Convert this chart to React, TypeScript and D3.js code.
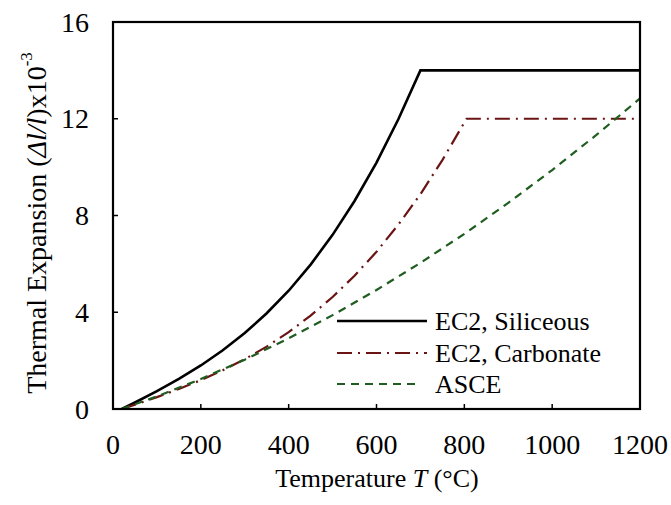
import React from "react";
import * as d3 from "d3";

const silTemps = [20, 50, 100, 150, 200, 250, 300, 350, 400, 450, 500, 550, 600, 650, 700, 1200];
const silValues = [0, 0.27, 0.74, 1.25, 1.8, 2.43, 3.14, 3.96, 4.89, 5.97, 7.2, 8.6, 10.19, 11.99, 14.0, 14.0];

const carbTemps = [20, 50, 100, 150, 200, 250, 300, 350, 400, 450, 500, 550, 600, 650, 700, 750, 805, 1200];
const carbValues = [0, 0.18, 0.49, 0.83, 1.19, 1.6, 2.06, 2.58, 3.18, 3.86, 4.63, 5.51, 6.5, 7.63, 8.88, 10.29, 12.0, 12.0];

const asceTemps = [20, 100, 200, 300, 400, 500, 600, 700, 800, 900, 1000, 1100, 1200];
const asceValues = [0, 0.52, 1.24, 2.04, 2.92, 3.88, 4.92, 6.04, 7.24, 8.52, 9.88, 11.32, 12.84];

const xTicks = [0, 200, 400, 600, 800, 1000, 1200];
const yTicks = [0, 4, 8, 12, 16];

const seriesNames = ["EC2, Siliceous", "EC2, Carbonate", "ASCE"];

const W = 671;
const H = 505;
const L = 113, R = 640, T = 22, B = 409;
const FONT = "Liberation Serif, Times New Roman, DejaVu Serif, serif";
const TS = { fontFamily: FONT };

export default function App() {
  const x = d3.scaleLinear().domain([0, 1200]).range([L, R]);
  const y = d3.scaleLinear().domain([0, 16]).range([B, T]);
  const line = d3.line<[number, number]>().x(d => x(d[0])).y(d => y(d[1]));

  const sil = silTemps.map((t, i) => [t, silValues[i]] as [number, number]);
  const carb = carbTemps.map((t, i) => [t, carbValues[i]] as [number, number]);
  const asce = asceTemps.map((t, i) => [t, asceValues[i]] as [number, number]);

  const styles = [
    { stroke: "#000", width: 2.6, dash: "none" },
    { stroke: "#6b1414", width: 2.2, dash: "15 6 2 6" },
    { stroke: "#1f5e1f", width: 2.2, dash: "8 6" },
  ];
  const datasets = [sil, carb, asce];

  const legendY = [321, 353, 384];
  const legendX2 = [427, 427, 417];

  return (
    <svg width={W} height={H} style={{ position: "absolute", left: 0, top: 0, background: "#fff" }}>
      <rect x={0} y={0} width={W} height={H} fill="#fff" />
      <defs>
        <clipPath id="plot">
          <rect x={L} y={T} width={R - L} height={B - T} />
        </clipPath>
      </defs>
      <g clipPath="url(#plot)">
        {datasets.map((d, i) => (
          <path key={i} d={line(d) || ""} fill="none" stroke={styles[i].stroke}
            strokeWidth={styles[i].width} strokeDasharray={styles[i].dash} />
        ))}
      </g>
      {xTicks.slice(1, -1).map(t => (
        <line key={"xt" + t} x1={x(t)} x2={x(t)} y1={B} y2={B - 5} stroke="#000" strokeWidth={1.5} />
      ))}
      {yTicks.slice(1, -1).map(t => (
        <line key={"yt" + t} x1={L} x2={L + 5} y1={y(t)} y2={y(t)} stroke="#000" strokeWidth={1.5} />
      ))}
      <rect x={L} y={T} width={R - L} height={B - T} fill="none" stroke="#000" strokeWidth={2.2} />
      {xTicks.map(t => (
        <text key={"xl" + t} x={x(t)} y={444} textAnchor="middle"
          dominantBaseline="central" fontSize={28} style={TS}>{t}</text>
      ))}
      {yTicks.map(t => (
        <text key={"yl" + t} x={89} y={y(t)} textAnchor="end"
          dominantBaseline="central" fontSize={28} style={TS}>{t}</text>
      ))}
      <text x={377} y={478} textAnchor="middle" dominantBaseline="central" fontSize={26} style={TS}>
        Temperature <tspan fontStyle="italic">T</tspan> (°C)
      </text>
      <text transform={`translate(36, 223) rotate(-90)`} textAnchor="middle" dominantBaseline="central" fontSize={28} style={TS}>
        Thermal Expansion (<tspan fontStyle="italic">Δl/l</tspan>)x10<tspan dy={-10} fontSize={17}>-3</tspan>
      </text>
      {seriesNames.map((n, i) => (
        <g key={n}>
          <line x1={337} x2={legendX2[i]} y1={legendY[i]} y2={legendY[i]} stroke={styles[i].stroke}
            strokeWidth={styles[i].width} strokeDasharray={styles[i].dash} />
          <text x={435} y={legendY[i]} dominantBaseline="central" fontSize={26} style={TS}>{n}</text>
        </g>
      ))}
    </svg>
  );
}
